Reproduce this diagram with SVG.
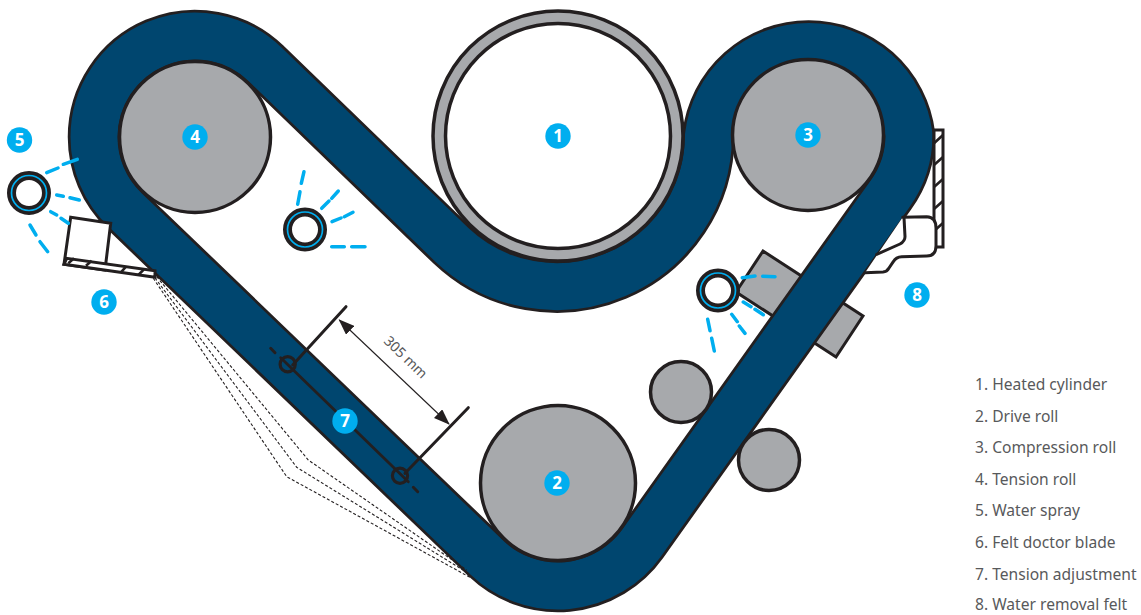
<svg xmlns="http://www.w3.org/2000/svg" width="1141" height="615" viewBox="0 0 1141 615">
<style>
.ln{fill:none;stroke:#231f20;stroke-linecap:round;stroke-linejoin:round}
.roll{fill:#a7a9ac;stroke:#231f20;stroke-width:3.5}
.dash{fill:none;stroke:#231f20;stroke-width:1.1;stroke-dasharray:3 2}
.spr{fill:none;stroke:#00aeef;stroke-width:3.5;stroke-linecap:round}
.badge{fill:#00aeef}
.num{font-family:"Open Sans","Noto Sans",sans-serif;font-size:17px;font-weight:700;fill:#fff;text-anchor:middle}
.lg{font-family:"Noto Sans","Open Sans",sans-serif;font-size:15.6px;fill:#58595b}
.box{fill:#fff;stroke:#231f20;stroke-width:3;stroke-linejoin:miter}
.tick{fill:none;stroke:#231f20;stroke-width:2.6}
.felt-edge{fill:none;stroke:#231f20;stroke-width:52.5}
.felt-core{fill:none;stroke:#00466f;stroke-width:47}
.ring{fill:#fff;stroke:#231f20;stroke-width:9}
.ring-in{fill:none;stroke:#00aeef;stroke-width:1.7}
</style>
<defs>
<marker id="ah" viewBox="0 0 16 12" refX="15" refY="6" markerWidth="16" markerHeight="12" markerUnits="userSpaceOnUse" orient="auto-start-reverse"><path d="M0,0L16,6L0,12Z" fill="#231f20"/></marker>
</defs>
<g id="guide-box"><polygon points="763,251 863,316 836,357 736,292" fill="#a7a9ac" stroke="#231f20" stroke-width="3"/></g>
<g id="felt">
<path class="felt-edge" d="M265.4,64.6L452,245A152,152 0 0 0 708.5,135.5A101,101 0 0 1 909,135A101,101 0 0 1 890,194L641.6,543A103,103 0 0 1 486.9,557.6L125.3,210.1A101,101 0 0 1 94,137A101,101 0 0 1 265.4,64.6Z"/>
<path class="felt-core" d="M265.4,64.6L452,245A152,152 0 0 0 708.5,135.5A101,101 0 0 1 909,135A101,101 0 0 1 890,194L641.6,543A103,103 0 0 1 486.9,557.6L125.3,210.1A101,101 0 0 1 94,137A101,101 0 0 1 265.4,64.6Z"/>
</g>
<g id="connectors">
<path class="dash" d="M156.7,276.7L308.3,460L466.7,570"/>
<path class="dash" d="M155,278L296.7,467.3L468.3,573.3"/>
<path class="dash" d="M153.3,278.3L286.7,476.7L471.7,578.3"/>
<path class="ln" style="stroke-width:2.8" d="M280.7,357.7L408.3,481.7"/>
<path class="ln" style="stroke-width:3" d="M270.7,348.3L275,352.7M413.3,487.3L417.7,491.7"/>
<circle cx="287.7" cy="364.3" r="7.6" fill="none" stroke="#231f20" stroke-width="3.2"/>
<circle cx="400" cy="475.7" r="7.6" fill="none" stroke="#231f20" stroke-width="3.2"/>
<path class="ln" style="stroke-width:3" d="M292.7,365L346,306.7M405,473.3L468.3,407.7"/>
<path fill="none" stroke="#231f20" stroke-width="1.1" marker-start="url(#ah)" marker-end="url(#ah)" d="M339.3,320L449,424"/>
</g>
<g id="roll-1"><circle cx="558" cy="136" r="125" fill="#a7a9ac" stroke="#231f20" stroke-width="3.5"/><circle cx="558" cy="136" r="112.5" fill="#fff" stroke="#231f20" stroke-width="3.5"/></g>
<g id="roll-2"><circle class="roll" cx="558" cy="483" r="77.5"/></g>
<g id="roll-3"><circle class="roll" cx="808" cy="135" r="75.5"/></g>
<g id="roll-4"><circle class="roll" cx="195" cy="137" r="75.5"/></g>
<g id="small-roll-a"><circle class="roll" cx="681" cy="392" r="30.5"/></g>
<g id="small-roll-b"><circle class="roll" cx="769" cy="460" r="30.5"/></g>
<g id="doctor-blade">
<polygon class="box" points="70.7,217.3 110.7,223.3 105,270 64,264.3"/>
<polygon class="box" points="64,264.3 155,277.3 155,270.7 66.7,258.3"/>
<path class="tick" d="M68.3,263.3L74,258.3M86,265.7L91.7,260.7M120.7,272.7L126,266.7M138.3,275L144,269.3"/>
</g>
<g id="water-removal">
<polygon class="box" points="934,130 943,130 943,247 934,247"/>
<path class="tick" d="M934,143.3L943,135M934,165L943,157M934,187L943,179M934,209L943,201M934,231L943,223"/>
<path fill="#fff" stroke="none" d="M902.7,217.3L926.7,216.7Q936,217 936,228L936,246Q936,256 926.7,256L901.7,256.7Q896,257 893.3,261.7L889,268Q887,271.7 883,272L865,272.7Z"/>
<path class="ln" style="stroke-width:3" d="M902.7,217.3L926.7,216.7Q936,217 936,228L936,246Q936,256 926.7,256L901.7,256.7Q896,257 893.3,261.7L889,268Q887,271.7 883,272L865,272.7"/>
<path class="ln" style="stroke-width:3" d="M876.7,254.3L900,244Q905,241 905,236.7L904,217.3"/>
</g>
<g id="spray-left">
<circle class="ring" cx="29" cy="193" r="17.5"/><circle class="ring-in" cx="29" cy="193" r="17.5"/>
<path class="spr" d="M46.7,172.7L58,168M63.3,164.3L77.3,159.3M56.7,195L63.3,196.3M70,197.7L79.3,200M50.7,211.7L56.7,215M61,218.3L68.3,223.3M30,225L36,235M40,241.7L47.7,251.7"/>
</g>
<g id="spray-center">
<circle class="ring" cx="305" cy="229.5" r="17.5"/><circle class="ring-in" cx="305" cy="229.5" r="17.5"/>
<path class="spr" d="M297.7,204.3L300,191.7M301.3,183.3L304,171.7M321.7,208.3L329,201M331.7,198.3L338.3,191M332,221.7L341,218M344.3,216.7L353,212.3M331.7,246.7L344.3,246.7M351.7,246.7L365,246.7"/>
</g>
<g id="spray-right">
<circle class="ring" cx="718" cy="290.5" r="17.5"/><circle class="ring-in" cx="718" cy="290.5" r="17.5"/>
<path class="spr" d="M742.3,277.7L755,276M762.7,276.3L775,276.7M743.3,302L751,306.7M755,309.3L763.3,314.7M731.7,314.3L737.3,321.7M739.3,326L745,333.3M707.7,319.3L710,330.7M711.7,338.3L714.3,351"/>
</g>
<g id="badge-1"><circle class="badge" cx="558" cy="136" r="12.7"/><text class="num" x="558" y="142">1</text></g>
<g id="badge-2"><circle class="badge" cx="557" cy="483" r="12.7"/><text class="num" x="557" y="489">2</text></g>
<g id="badge-3"><circle class="badge" cx="808" cy="135" r="12.7"/><text class="num" x="808" y="141">3</text></g>
<g id="badge-4"><circle class="badge" cx="195" cy="137" r="12.7"/><text class="num" x="195" y="143">4</text></g>
<g id="badge-5"><circle class="badge" cx="19.5" cy="140" r="12.7"/><text class="num" x="19.5" y="146">5</text></g>
<g id="badge-6"><circle class="badge" cx="104" cy="302" r="12.7"/><text class="num" x="104" y="308">6</text></g>
<g id="badge-7"><circle class="badge" cx="345" cy="421" r="12.7"/><text class="num" x="345" y="427">7</text></g>
<g id="badge-8"><circle class="badge" cx="917" cy="295" r="12.7"/><text class="num" x="917" y="301">8</text></g>
<text class="lg" style="font-size:14px" transform="translate(383,342) rotate(44)">305 mm</text>
<g id="legend">
<text class="lg" x="975" y="390">1. Heated cylinder</text>
<text class="lg" x="975" y="421.6">2. Drive roll</text>
<text class="lg" x="975" y="453.2">3. Compression roll</text>
<text class="lg" x="975" y="484.8">4. Tension roll</text>
<text class="lg" x="975" y="516.4">5. Water spray</text>
<text class="lg" x="975" y="548">6. Felt doctor blade</text>
<text class="lg" x="975" y="579.6">7. Tension adjustment</text>
<text class="lg" x="975" y="610.2">8. Water removal felt</text>
</g>
</svg>
